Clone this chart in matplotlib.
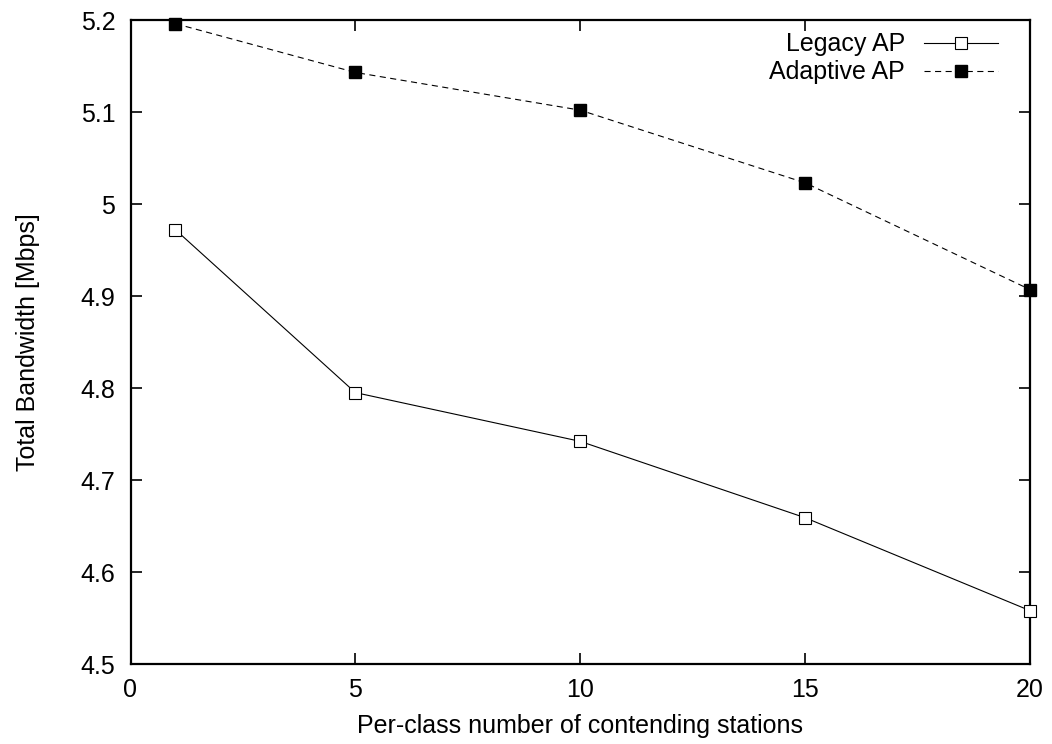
import matplotlib
matplotlib.use("Agg")
import matplotlib.pyplot as plt

stations = [1, 5, 10, 15, 20]
legacy_ap = [4.972, 4.795, 4.742, 4.659, 4.558]
adaptive_ap = [5.196, 5.143, 5.102, 5.023, 4.907]
x_ticks = [0, 5, 10, 15, 20]
y_ticks = [4.5, 4.6, 4.7, 4.8, 4.9, 5.0, 5.1, 5.2]
y_tick_labels = ["4.5", "4.6", "4.7", "4.8", "4.9", "5", "5.1", "5.2"]

plt.rcParams['font.family'] = ['Liberation Sans', 'DejaVu Sans']
FS = 18

fig = plt.figure(figsize=(10.52, 7.44), dpi=100)
ax = fig.add_axes([130.5 / 1052, 80 / 744, (1030 - 130.5) / 1052, (664 - 20) / 744])

ax.plot(stations, legacy_ap, color='black', linewidth=0.8, marker='s',
        markersize=8.5, markerfacecolor='white', markeredgecolor='black',
        markeredgewidth=0.8, label='Legacy AP', clip_on=False, zorder=3)
ax.plot(stations, adaptive_ap, color='black', linewidth=0.8, linestyle=(0, (5.5, 4)),
        marker='s', markersize=8.5, markerfacecolor='black', markeredgecolor='black',
        label='Adaptive AP', clip_on=False, zorder=3)

ax.set_xlim(0, 20)
ax.set_ylim(4.5, 5.2)
ax.set_xticks(x_ticks)
ax.set_xticklabels([str(v) for v in x_ticks])
ax.set_yticks(y_ticks)
ax.set_yticklabels(y_tick_labels)

ax.tick_params(axis='both', direction='in', length=8, width=1.2,
               top=True, right=True, labelsize=FS, colors='black')
ax.tick_params(axis='x', pad=10)
ax.tick_params(axis='y', pad=11)
for s in ax.spines.values():
    s.set_linewidth(1.6)

ax.set_xlabel('Per-class number of contending stations', fontsize=FS, labelpad=9)
ax.set_ylabel('Total Bandwidth [Mbps]', fontsize=FS, labelpad=29)

leg = ax.legend(loc='upper right', bbox_to_anchor=(0.9644, 0.9806), frameon=False,
                fontsize=FS, markerfirst=False, handlelength=2.96, handletextpad=0.76,
                labelspacing=0.16, borderaxespad=0, borderpad=0)
try:
    for col in leg._legend_handle_box.get_children():
        col.align = 'right'
except Exception:
    pass

fig.savefig('out.png', dpi=100)
